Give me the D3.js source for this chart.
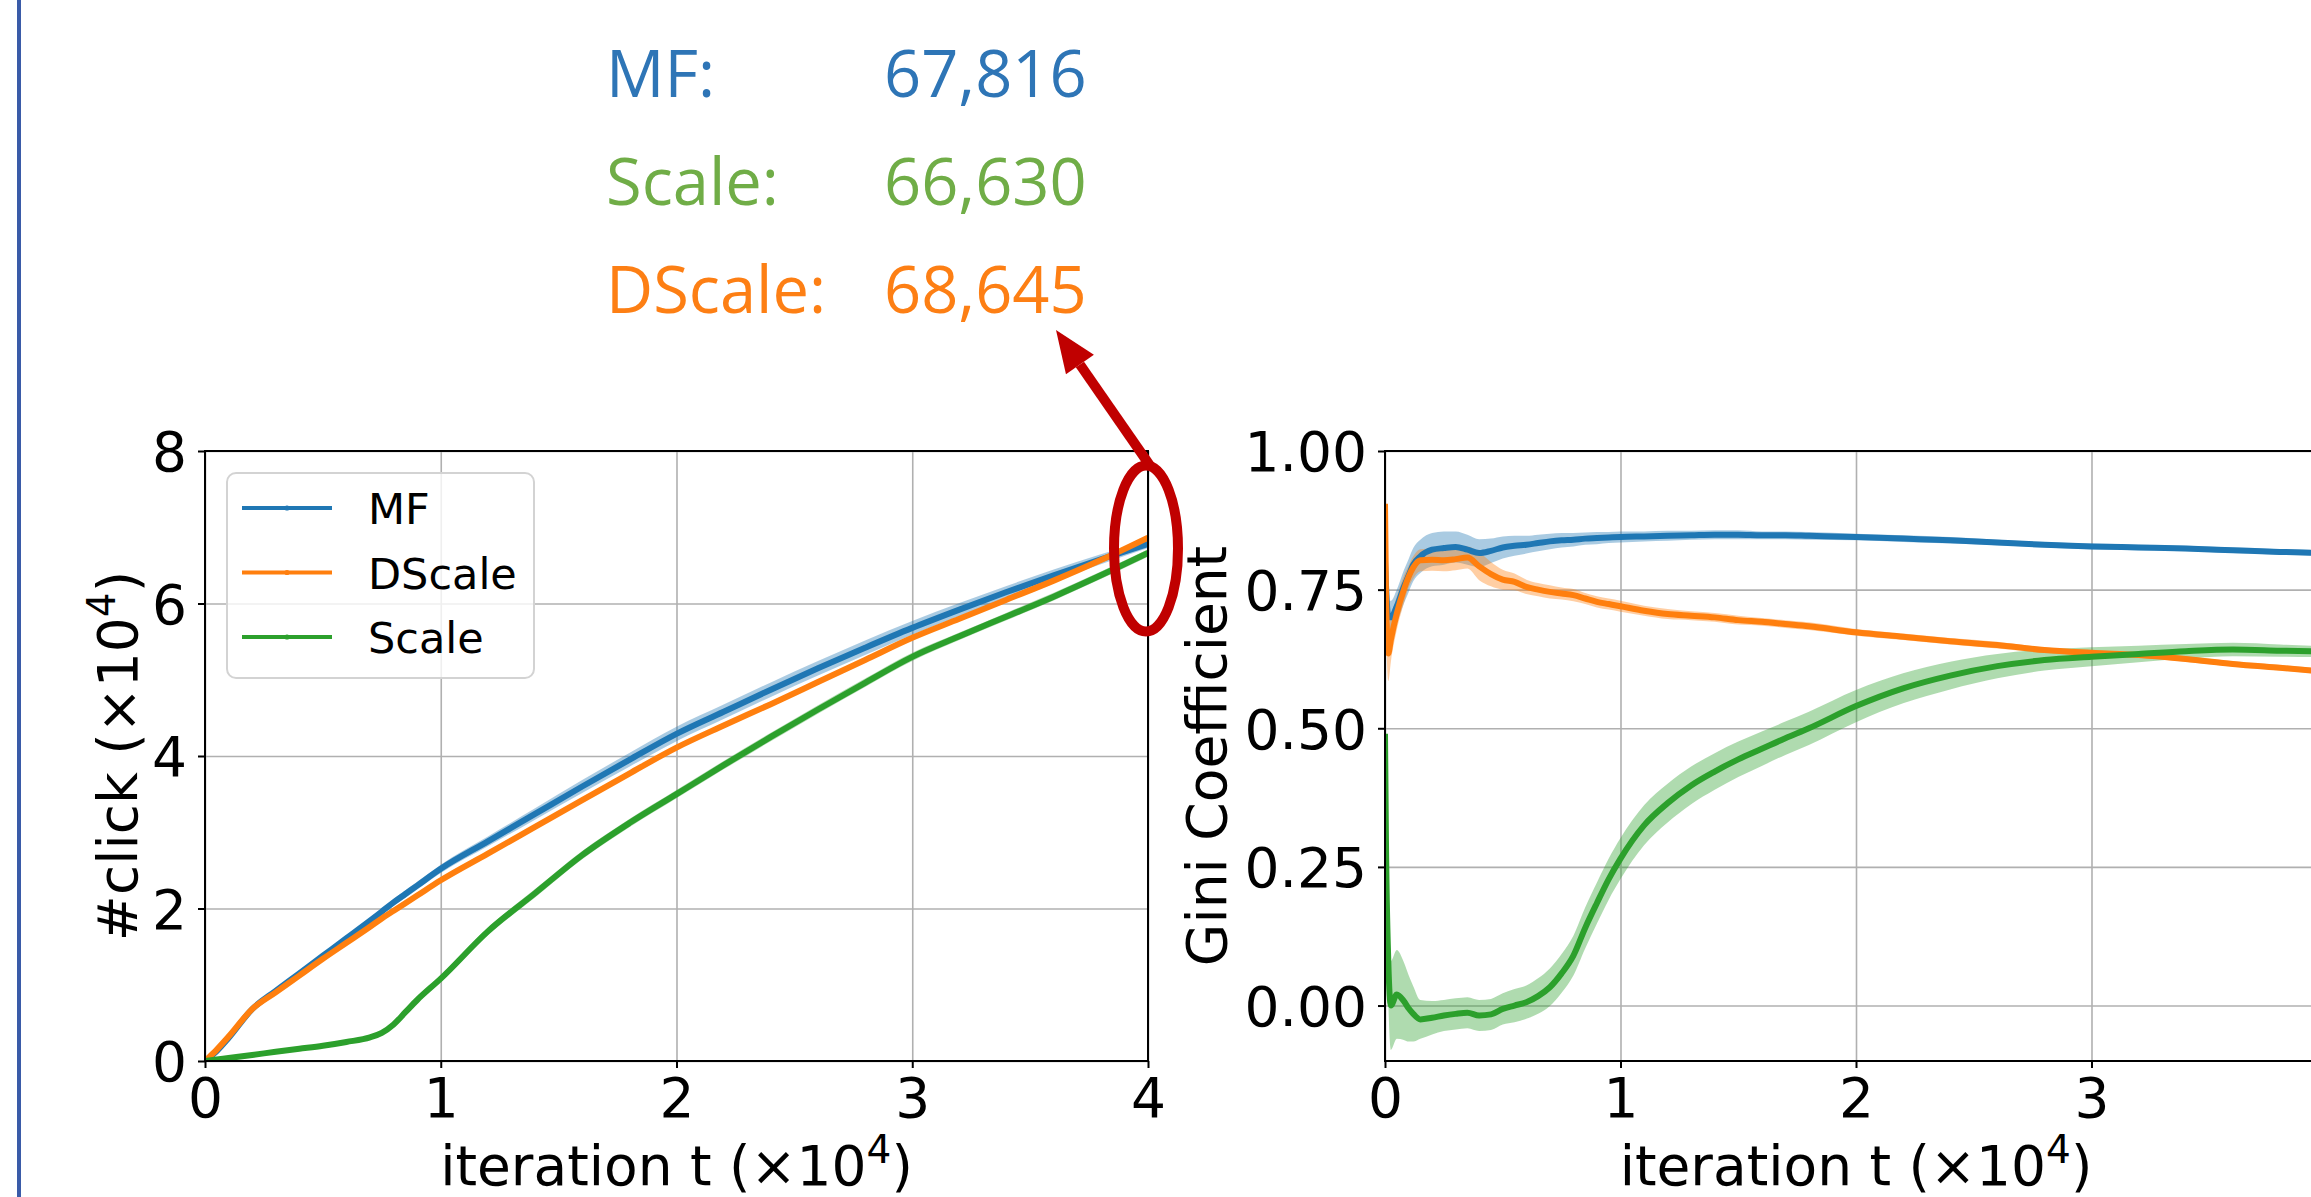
<!DOCTYPE html>
<html>
<head>
<meta charset="utf-8">
<script src="https://cdn.jsdelivr.net/npm/d3@7"></script>
<style>
  html, body { margin: 0; padding: 0; background: #fff; overflow: hidden; }
  svg { display: block; }
</style>
</head>
<body>
<svg id="fig" width="2311" height="1197"></svg>
<script>
// ---------------- data ----------------
const seriesNames  = ["MF", "DScale", "Scale"];
const seriesColors = ["#1f77b4", "#ff7f0e", "#2ca02c"];

// cumulative clicks (x10^4) against iteration (x10^4)
const clickIter   = [0, 0.05, 0.1, 0.2, 0.3, 0.4, 0.5, 0.6, 0.7, 0.75, 0.8, 0.85, 0.9, 1.0, 1.2, 1.4, 1.6, 1.8, 2.0, 2.2, 2.4, 2.6, 2.8, 3.0, 3.2, 3.4, 3.6, 3.8, 4.0];
const clickMF     = [0, 0.13, 0.3, 0.68, 0.92, 1.15, 1.38, 1.61, 1.84, 1.96, 2.08, 2.19, 2.3, 2.52, 2.88, 3.24, 3.6, 3.95, 4.29, 4.58, 4.87, 5.15, 5.42, 5.68, 5.92, 6.15, 6.37, 6.58, 6.7816];
const clickDScale = [0, 0.15, 0.32, 0.68, 0.9, 1.12, 1.34, 1.55, 1.76, 1.87, 1.97, 2.07, 2.17, 2.37, 2.72, 3.07, 3.42, 3.77, 4.11, 4.4, 4.68, 4.97, 5.26, 5.55, 5.8, 6.05, 6.3, 6.57, 6.8645];
const clickScale  = [0, 0.02, 0.04, 0.08, 0.12, 0.16, 0.2, 0.25, 0.31, 0.37, 0.48, 0.64, 0.8, 1.08, 1.7, 2.2, 2.7, 3.12, 3.5, 3.88, 4.25, 4.61, 4.96, 5.3, 5.57, 5.83, 6.09, 6.37, 6.663];
// half-width of the shaded spread around each curve
const clickBandMF     = [0, 0.01, 0.015, 0.02, 0.02, 0.025, 0.03, 0.035, 0.04, 0.04, 0.045, 0.05, 0.05, 0.055, 0.065, 0.075, 0.085, 0.09, 0.095, 0.095, 0.095, 0.095, 0.095, 0.09, 0.085, 0.08, 0.075, 0.065, 0.055];
const clickBandDScale = [0, 0.005, 0.008, 0.01, 0.01, 0.01, 0.012, 0.012, 0.012, 0.012, 0.012, 0.012, 0.012, 0.015, 0.015, 0.015, 0.015, 0.018, 0.018, 0.02, 0.02, 0.02, 0.02, 0.02, 0.02, 0.02, 0.02, 0.02, 0.02];
const clickBandScale  = [0, 0.005, 0.008, 0.01, 0.012, 0.014, 0.016, 0.018, 0.02, 0.025, 0.03, 0.035, 0.04, 0.045, 0.05, 0.055, 0.055, 0.055, 0.055, 0.055, 0.055, 0.055, 0.055, 0.055, 0.05, 0.05, 0.05, 0.05, 0.05];

// Gini coefficient of item exposure against iteration (x10^4)
const giniIter   = [0, 0.004, 0.014, 0.025, 0.05, 0.08, 0.1, 0.12, 0.15, 0.2, 0.25, 0.3, 0.35, 0.4, 0.45, 0.5, 0.55, 0.6, 0.65, 0.7, 0.75, 0.8, 0.85, 0.9, 0.95, 1.0, 1.1, 1.2, 1.3, 1.4, 1.5, 1.6, 1.7, 1.8, 2.0, 2.2, 2.4, 2.6, 2.8, 3.0, 3.2, 3.4, 3.6, 3.8, 4.0];
const giniMF     = [0.80, 0.76, 0.70, 0.70, 0.72, 0.755, 0.775, 0.795, 0.81, 0.822, 0.825, 0.827, 0.822, 0.816, 0.82, 0.826, 0.829, 0.831, 0.834, 0.837, 0.839, 0.84, 0.842, 0.843, 0.844, 0.845, 0.846, 0.847, 0.848, 0.849, 0.849, 0.848, 0.848, 0.847, 0.845, 0.842, 0.839, 0.835, 0.831, 0.828, 0.826, 0.824, 0.821, 0.818, 0.816];
const giniDScale = [0.905, 0.75, 0.635, 0.66, 0.707, 0.75, 0.773, 0.79, 0.803, 0.804, 0.803, 0.805, 0.808, 0.792, 0.778, 0.768, 0.764, 0.755, 0.75, 0.746, 0.743, 0.74, 0.734, 0.728, 0.724, 0.72, 0.712, 0.706, 0.703, 0.70, 0.695, 0.692, 0.688, 0.684, 0.673, 0.665, 0.657, 0.65, 0.641, 0.636, 0.632, 0.625, 0.616, 0.609, 0.602];
const giniScale  = [0.49, 0.30, 0.08, 0.0, 0.02, 0.008, -0.005, -0.015, -0.025, -0.022, -0.018, -0.015, -0.013, -0.018, -0.016, -0.006, 0.0, 0.006, 0.017, 0.033, 0.058, 0.09, 0.14, 0.185, 0.228, 0.265, 0.325, 0.365, 0.397, 0.422, 0.444, 0.463, 0.482, 0.5, 0.54, 0.572, 0.595, 0.612, 0.623, 0.629, 0.634, 0.639, 0.642, 0.640, 0.638];
const giniBandMF     = [0.04, 0.04, 0.03, 0.03, 0.03, 0.03, 0.03, 0.03, 0.03, 0.03, 0.03, 0.028, 0.027, 0.025, 0.022, 0.02, 0.018, 0.016, 0.015, 0.014, 0.013, 0.012, 0.011, 0.011, 0.01, 0.01, 0.009, 0.009, 0.008, 0.008, 0.008, 0.007, 0.007, 0.007, 0.006, 0.006, 0.006, 0.005, 0.005, 0.005, 0.005, 0.005, 0.005, 0.005, 0.005];
const giniBandDScale = [0.04, 0.05, 0.05, 0.04, 0.03, 0.025, 0.02, 0.02, 0.02, 0.02, 0.02, 0.02, 0.02, 0.025, 0.022, 0.018, 0.015, 0.013, 0.012, 0.012, 0.011, 0.011, 0.01, 0.01, 0.01, 0.01, 0.009, 0.009, 0.008, 0.008, 0.008, 0.007, 0.007, 0.007, 0.006, 0.006, 0.006, 0.006, 0.005, 0.005, 0.005, 0.005, 0.005, 0.005, 0.005];
const giniBandScale  = [0.02, 0.05, 0.07, 0.08, 0.08, 0.07, 0.06, 0.05, 0.035, 0.03, 0.028, 0.028, 0.028, 0.028, 0.028, 0.028, 0.03, 0.03, 0.032, 0.034, 0.035, 0.036, 0.037, 0.037, 0.037, 0.037, 0.036, 0.035, 0.034, 0.033, 0.032, 0.031, 0.03, 0.03, 0.029, 0.027, 0.025, 0.022, 0.019, 0.017, 0.015, 0.013, 0.012, 0.011, 0.01];

// tick values
const iterTicks  = [0, 1, 2, 3, 4];
const clickTicks = [0, 2, 4, 6, 8];
const giniTicks  = [0, 0.25, 0.5, 0.75, 1.0];

// final click totals shown in the summary block (order as listed)
const summaryNames  = ["MF", "Scale", "DScale"];
const summaryColors = ["#2e75b6", "#70ad47", "#fd7f14"];

// ---------------- drawing ----------------
const W = 2311;
const svg = d3.select("#fig");
const TICK_FONT = "DejaVu Sans";
const FS = 55;

// slide frame rule on the left
svg.append("line")
  .attr("x1", 19).attr("x2", 19).attr("y1", 0).attr("y2", 1197)
  .attr("stroke", "#3a5ba8").attr("stroke-width", 4);

function mathLabel(textSel, prefix) {
  textSel.append("tspan").text(prefix + "(\u00d710");
  textSel.append("tspan").attr("dy", -22).attr("font-size", 39).text("4");
  textSel.append("tspan").attr("dy", 22).text(")");
}

function drawPanel(cfg) {
  const { id, left, right, top, bottom, yDomain, yTicks, yFormat, xs, series } = cfg;
  const x = d3.scaleLinear().domain([0, 4]).range([left, right]);
  const y = d3.scaleLinear().domain(yDomain).range([bottom, top]);
  const g = svg.append("g");

  g.append("clipPath").attr("id", "clip-" + id)
    .append("rect").attr("x", left).attr("y", top)
    .attr("width", right - left).attr("height", bottom - top);

  // grid
  const gx = g.append("g").attr("transform", `translate(0,${bottom})`)
    .call(d3.axisBottom(x).tickValues(iterTicks).tickSize(-(bottom - top)).tickFormat(""));
  const gy = g.append("g").attr("transform", `translate(${left},0)`)
    .call(d3.axisLeft(y).tickValues(yTicks).tickSize(-(right - left)).tickFormat(""));
  [gx, gy].forEach(s => {
    s.select(".domain").remove();
    s.selectAll("line").attr("stroke", "#b0b0b0").attr("stroke-width", 1.6);
  });

  const data = series.map(s => xs.map((v, i) => ({ x: v, y: s.values[i], b: s.band[i] })));
  const plot = g.append("g").attr("clip-path", `url(#clip-${id})`);

  // spread bands
  const area = d3.area().x(d => x(d.x)).y0(d => y(d.y - d.b)).y1(d => y(d.y + d.b))
    .curve(d3.curveMonotoneX);
  plot.selectAll("path.band").data(data).join("path")
    .attr("class", "band")
    .attr("d", area)
    .attr("fill", (d, i) => series[i].color)
    .attr("fill-opacity", 0.38);

  // mean curves
  const line = d3.line().x(d => x(d.x)).y(d => y(d.y)).curve(d3.curveMonotoneX);
  plot.selectAll("path.curve").data(data).join("path")
    .attr("class", "curve")
    .attr("d", line)
    .attr("fill", "none")
    .attr("stroke", (d, i) => series[i].color)
    .attr("stroke-width", 6)
    .attr("stroke-linejoin", "round");

  // spines
  g.append("rect").attr("x", left).attr("y", top)
    .attr("width", right - left).attr("height", bottom - top)
    .attr("fill", "none").attr("stroke", "#000").attr("stroke-width", 2);

  // tick marks and labels (labels that would fall past the page edge are skipped)
  const ax = g.append("g").attr("transform", `translate(0,${bottom})`)
    .call(d3.axisBottom(x).tickValues(iterTicks).tickSize(7).tickFormat(d3.format("d")));
  ax.selectAll("text").attr("y", 56).attr("dy", null);
  ax.selectAll(".tick").filter(d => x(d) + 20 > W).select("text").remove();
  const ay = g.append("g").attr("transform", `translate(${left},0)`)
    .call(d3.axisLeft(y).tickValues(yTicks).tickSize(7).tickFormat(yFormat));
  ay.selectAll("text").attr("x", -18).attr("dy", "0.36em");
  [ax, ay].forEach(s => {
    s.select(".domain").remove();
    s.selectAll("line").attr("stroke", "#000").attr("stroke-width", 2);
    s.selectAll("text").attr("fill", "#000")
      .attr("font-family", TICK_FONT).attr("font-size", FS);
  });

  // axis titles
  const xt = g.append("text")
    .attr("x", (left + right) / 2).attr("y", 1185)
    .attr("text-anchor", "middle")
    .attr("font-family", TICK_FONT).attr("font-size", FS).attr("fill", "#000");
  mathLabel(xt, "iteration t ");

  const yt = g.append("text")
    .attr("transform", `translate(${cfg.yTitleX},${(top + bottom) / 2}) rotate(-90)`)
    .attr("text-anchor", "middle")
    .attr("font-family", TICK_FONT).attr("font-size", FS).attr("fill", "#000");
  if (cfg.yTitleMath) mathLabel(yt, cfg.yTitle); else yt.text(cfg.yTitle);

  return { x, y, g };
}

const clickSeries = [
  { values: clickMF, band: clickBandMF, color: seriesColors[0] },
  { values: clickDScale, band: clickBandDScale, color: seriesColors[1] },
  { values: clickScale, band: clickBandScale, color: seriesColors[2] }
];
const giniSeries = [
  { values: giniMF, band: giniBandMF, color: seriesColors[0] },
  { values: giniDScale, band: giniBandDScale, color: seriesColors[1] },
  { values: giniScale, band: giniBandScale, color: seriesColors[2] }
];

const left = drawPanel({
  id: "click", left: 205, right: 1148, top: 451, bottom: 1061,
  yDomain: [0, 8], yTicks: clickTicks, yFormat: d3.format("d"),
  xs: clickIter, series: clickSeries,
  yTitle: "#click ", yTitleMath: true, yTitleX: 137
});

drawPanel({
  id: "gini", left: 1385, right: 2327, top: 451, bottom: 1061,
  yDomain: [-0.1, 1.0], yTicks: giniTicks, yFormat: d3.format(".2f"),
  xs: giniIter, series: giniSeries,
  yTitle: "Gini Coefficient", yTitleMath: false, yTitleX: 1226
});

// legend (left panel)
const lg = left.g.append("g").attr("transform", "translate(227,473)");
lg.append("rect").attr("width", 307).attr("height", 205).attr("rx", 9)
  .attr("fill", "#fff").attr("fill-opacity", 0.8)
  .attr("stroke", "#d3d3d3").attr("stroke-width", 2);
seriesNames.forEach((name, i) => {
  const cy = 35 + i * 64.5;
  lg.append("line").attr("x1", 15).attr("x2", 105).attr("y1", cy).attr("y2", cy)
    .attr("stroke", seriesColors[i]).attr("stroke-width", 4);
  lg.append("circle").attr("cx", 60).attr("cy", cy).attr("r", 2.6).attr("fill", seriesColors[i]);
  lg.append("text").attr("x", 141).attr("y", cy + 16)
    .attr("font-family", TICK_FONT).attr("font-size", 43).attr("fill", "#000")
    .text(name);
});

// summary of final click totals, taken from the last point of each curve
const finalClicks = {
  MF: clickMF[clickMF.length - 1],
  DScale: clickDScale[clickDScale.length - 1],
  Scale: clickScale[clickScale.length - 1]
};
const fmt = d3.format(",");
summaryNames.forEach((name, i) => {
  const yb = 97 + i * 108;
  svg.append("text").attr("x", 606).attr("y", yb)
    .attr("font-family", "Open Sans").attr("font-size", 65)
    .attr("fill", summaryColors[i]).text(name + ":");
  svg.append("text").attr("x", 884).attr("y", yb)
    .attr("font-family", "Open Sans").attr("font-size", 65)
    .attr("fill", summaryColors[i]).text(fmt(Math.round(finalClicks[name] * 1e4)));
});

// highlight of the end values and the pointer to the summary
const red = "#c00000";
const ex = left.x(4), ey = left.y(6.72);
svg.append("ellipse").attr("cx", ex - 2).attr("cy", ey)
  .attr("rx", 32).attr("ry", 83)
  .attr("fill", "none").attr("stroke", red).attr("stroke-width", 10);

const tail = [ex + 2, ey - 83];
const tip = [1056, 330];
const dx = tip[0] - tail[0], dy = tip[1] - tail[1];
const len = Math.hypot(dx, dy);
const ux = dx / len, uy = dy / len;
const headLen = 42, headHalf = 17;
const base = [tip[0] - ux * headLen, tip[1] - uy * headLen];
svg.append("line")
  .attr("x1", tail[0]).attr("y1", tail[1]).attr("x2", base[0]).attr("y2", base[1])
  .attr("stroke", red).attr("stroke-width", 10);
svg.append("path")
  .attr("d", d3.line()([
    tip,
    [base[0] - uy * headHalf, base[1] + ux * headHalf],
    [base[0] + uy * headHalf, base[1] - ux * headHalf]
  ]) + "Z")
  .attr("fill", red);
</script>
</body>
</html>
